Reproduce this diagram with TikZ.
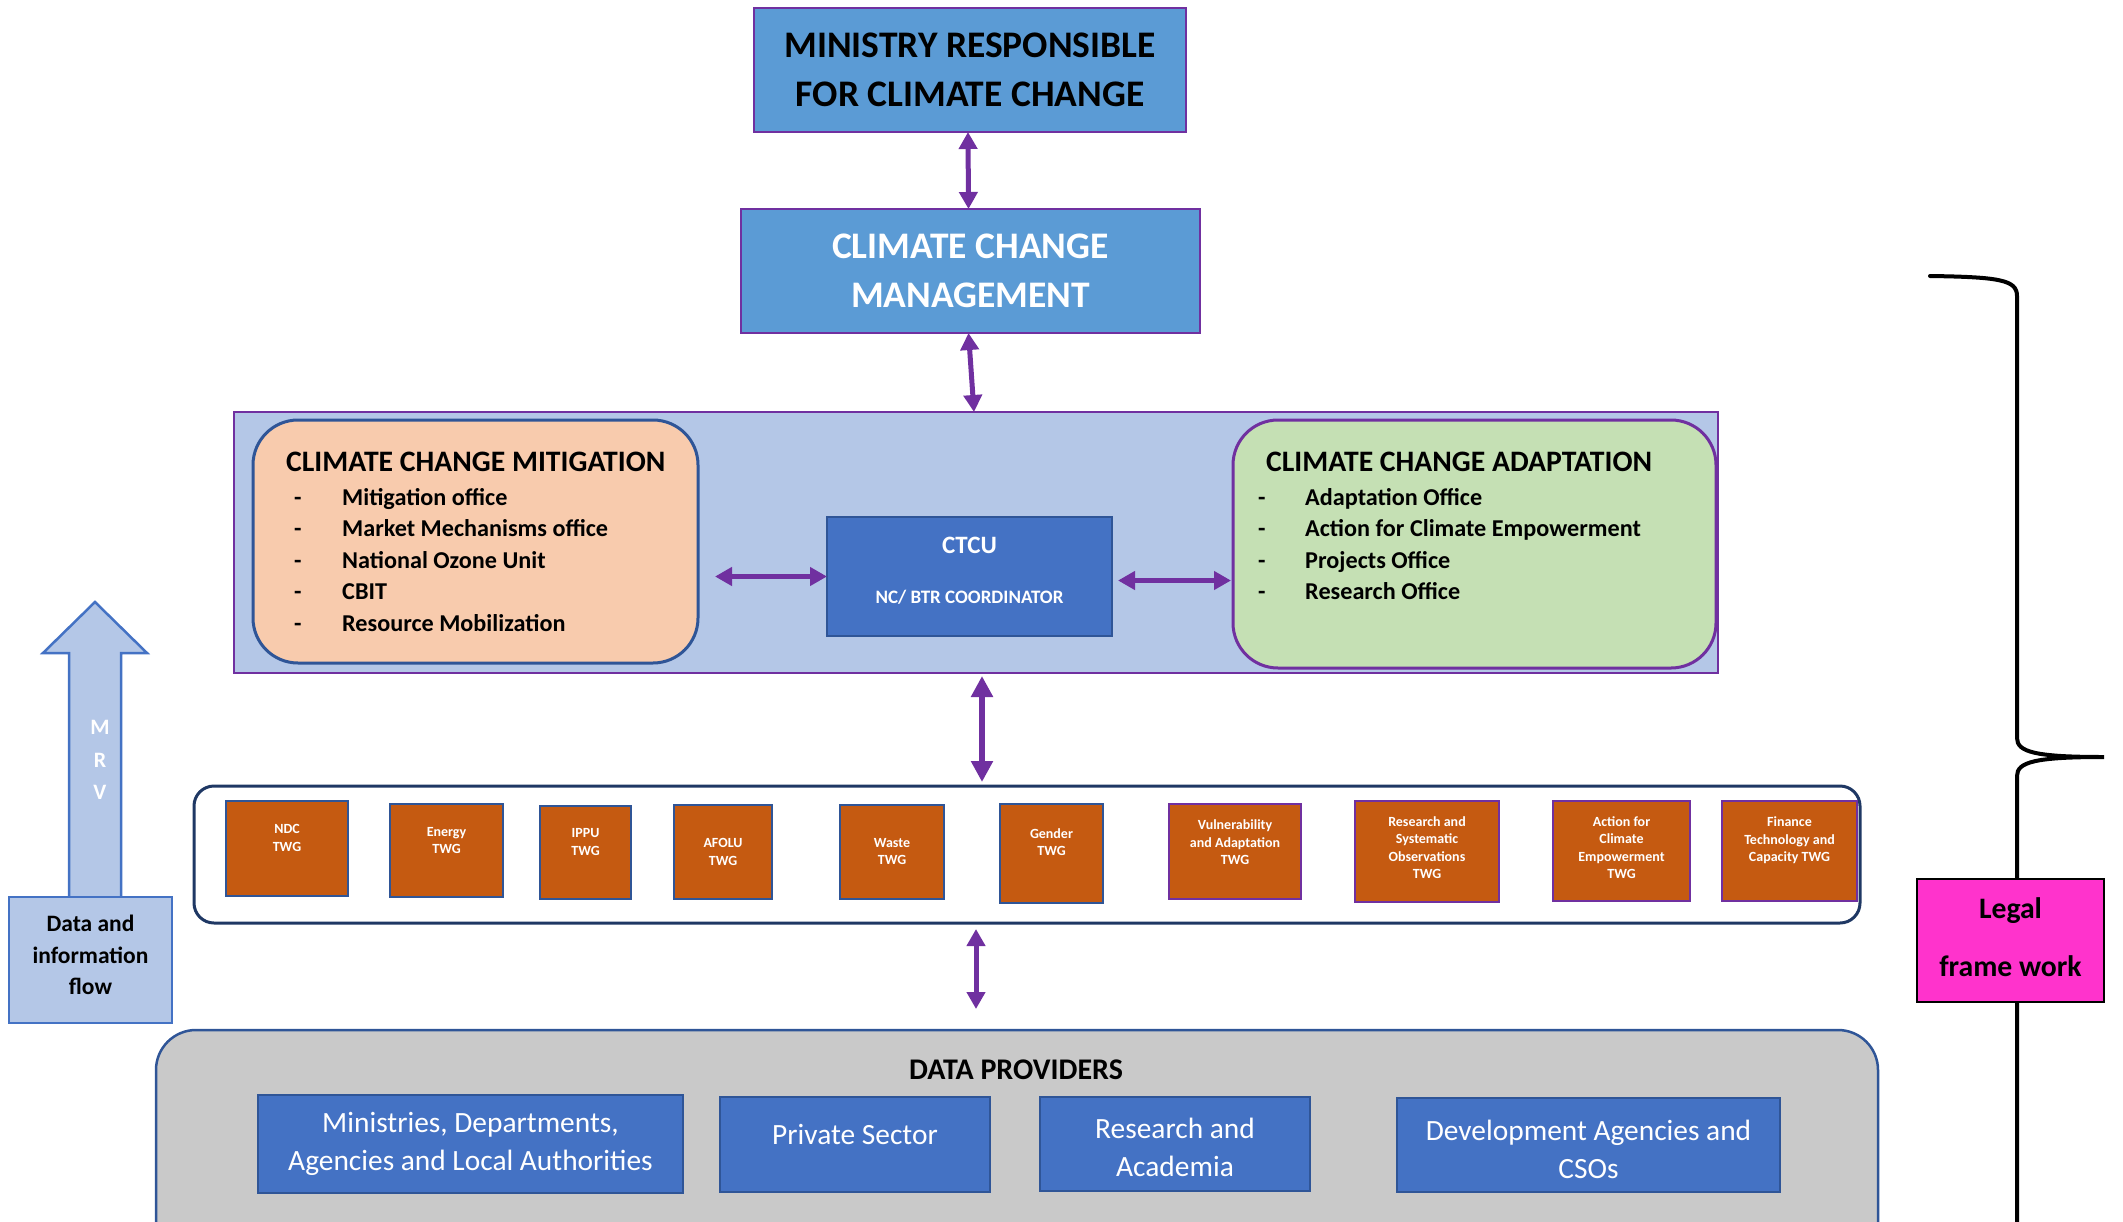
\documentclass[tikz,border=0pt]{standalone}
\usepackage{fontspec}
\setmainfont{Carlito}
\usetikzlibrary{arrows.meta}
\definecolor{skyb}{HTML}{5B9BD5}
\definecolor{purp}{HTML}{7030A0}
\definecolor{hubc}{HTML}{B4C7E7}
\definecolor{peach}{HTML}{F8CBAD}
\definecolor{greenc}{HTML}{C5E0B4}
\definecolor{midb}{HTML}{4472C4}
\definecolor{darkb}{HTML}{2F5597}
\definecolor{navy}{HTML}{1F3864}
\definecolor{rust}{HTML}{C55A11}
\definecolor{grayc}{HTML}{C9C9C9}
\definecolor{magen}{HTML}{FF33CC}
\begin{document}
\begin{tikzpicture}[x=1pt,y=-1pt,
  rbox/.style={draw, rectangle, inner sep=0pt, outer sep=0pt, line width=2.5pt, align=center},
  biarr/.style={<->, >={Triangle[width=18pt,length=17pt]}, line width=5pt, draw=purp},
  biarrb/.style={<->, >={Triangle[width=21pt,length=21pt]}, line width=6pt, draw=purp},
  titletxt/.style={anchor=base west, inner sep=0pt, font=\fontsize{29.7}{34}\selectfont\bfseries},
  itemtxt/.style={anchor=base west, inner sep=0pt, font=\fontsize{24.2}{29}\selectfont\bfseries},
  twgbox/.style={rbox, fill=rust, line width=2.5pt},
  twgtxt/.style={inner sep=0pt, align=center, text=white, font=\fontsize{14}{17.5}\selectfont\bfseries},
  provbox/.style={rbox, fill=midb, draw=darkb, text=white, font=\fontsize{29.4}{38}\selectfont},
]
\useasboundingbox (0,0) rectangle (2123,1221);
\clip (0,0) rectangle (2123,1221);

% top boxes
\node[rbox, fill=skyb, draw=purp, minimum width=432pt, minimum height=124pt,
      font=\fontsize{37.5}{49}\selectfont\bfseries] (min) at (970,70)
      {MINISTRY RESPONSIBLE\\FOR CLIMATE CHANGE};
\node[rbox, fill=skyb, draw=purp, minimum width=459pt, minimum height=124pt, text=white,
      font=\fontsize{37.5}{49}\selectfont\bfseries] (ccm) at (970.5,271)
      {CLIMATE CHANGE\\MANAGEMENT};

% hub
\node[rbox, fill=hubc, draw=purp, minimum width=1484pt, minimum height=261pt] (hub) at (976,542.5) {};
\node[rbox, fill=peach, draw=darkb, rounded corners=45pt, line width=3pt,
      minimum width=445pt, minimum height=243pt] (mit) at (475.5,541.5) {};
\node[rbox, fill=greenc, draw=purp, rounded corners=45pt, line width=3pt,
      minimum width=483pt, minimum height=248pt] (adapt) at (1474.5,544) {};

\node[titletxt] (mitT) at (286,471) {CLIMATE CHANGE MITIGATION};
\foreach \t [count=\i] in {Mitigation office, Market Mechanisms office, National Ozone Unit, CBIT, Resource Mobilization}{
  \node[itemtxt] (mitD\i) at (294,{505+31.5*(\i-1)}) {-};
  \node[itemtxt] (mitI\i) at (342,{505+31.5*(\i-1)}) {\t};
}
\node[titletxt] (adT) at (1266,471) {CLIMATE CHANGE ADAPTATION};
\foreach \t [count=\i] in {Adaptation Office, Action for Climate Empowerment, Projects Office, Research Office}{
  \node[itemtxt] (adD\i) at (1258,{505+31.5*(\i-1)}) {-};
  \node[itemtxt] (adI\i) at (1305,{505+31.5*(\i-1)}) {\t};
}

\node[rbox, fill=midb, draw=darkb, minimum width=285pt, minimum height=119pt] (ctcu) at (969.5,576.5) {};
\node[anchor=base, inner sep=0pt, text=white, font=\fontsize{25}{30}\selectfont\bfseries] (ctcuT) at (969.5,553) {CTCU};
\node[anchor=base, inner sep=0pt, text=white, font=\fontsize{19}{23}\selectfont\bfseries] (ctcuS) at (969.5,603) {NC/ BTR COORDINATOR};

% arrows top
\draw[biarr] ([xshift=-2pt]min.south) -- ([xshift=-2pt]ccm.north);
\draw[biarr] ([xshift=-2pt]ccm.south) -- ([xshift=-2pt]hub.north);
\draw[biarr] ([xshift=17pt]mit.east |- ctcu.west) -- (ctcu.west);
\draw[biarr] ([xshift=6pt,yshift=-4pt]ctcu.east) -- ([xshift=-2pt,yshift=-4pt]ctcu.east -| adapt.west);

% TWG container
\node[rbox, fill=white, draw=navy, line width=3pt, rounded corners=20pt,
      minimum width=1666pt, minimum height=137pt] (twg) at (1027,854.5) {};
\draw[biarrb] ([xshift=6pt,yshift=-3pt]hub.south) -- ([xshift=6pt,yshift=4pt]hub.south |- twg.north);

\node[twgbox, draw=darkb, minimum width=122pt, minimum height=95pt] (t1) at (287,848.5) {};
\node[twgbox, draw=darkb, minimum width=113pt, minimum height=93pt] (t2) at (446.5,850.5) {};
\node[twgbox, draw=darkb, minimum width=91pt, minimum height=93pt] (t3) at (585.5,852.5) {};
\node[twgbox, draw=darkb, minimum width=98pt, minimum height=94pt] (t4) at (723,852) {};
\node[twgbox, draw=darkb, minimum width=104pt, minimum height=94pt] (t5) at (892,852) {};
\node[twgbox, draw=darkb, minimum width=103pt, minimum height=99pt] (t6) at (1051.5,853.5) {};
\node[twgbox, draw=purp, minimum width=132pt, minimum height=95pt] (t7) at (1235,851.5) {};
\node[twgbox, draw=purp, minimum width=144pt, minimum height=101pt] (t8) at (1427,851.5) {};
\node[twgbox, draw=purp, minimum width=137pt, minimum height=100pt] (t9) at (1621.5,851) {};
\node[twgbox, draw=purp, minimum width=135pt, minimum height=100pt] (t10) at (1789.5,851) {};

\node[twgtxt] (l1) at (287,838) {NDC\\TWG};
\node[twgtxt] (l2) at (446.5,840.5) {Energy\\TWG};
\node[twgtxt] (l3) at (585.5,842) {IPPU\\TWG};
\node[twgtxt] (l4) at (723,852) {AFOLU\\TWG};
\node[twgtxt] (l5) at (892,851.5) {Waste\\TWG};
\node[twgtxt] (l6) at (1051.5,842) {Gender\\TWG};
\node[twgtxt] (l7) at (1235,842.5) {Vulnerability\\and Adaptation\\TWG};
\node[twgtxt] (l8) at (1427,847.5) {Research and\\Systematic\\Observations\\TWG};
\node[twgtxt] (l9) at (1621.5,847.5) {Action for\\Climate\\Empowerment\\TWG};
\node[twgtxt] (l10) at (1789.5,840.5) {Finance\\Technology and\\Capacity TWG};

% data providers
\node[rbox, fill=grayc, draw=darkb, rounded corners=40pt,
      minimum width=1722pt, minimum height=240pt] (dp) at (1017,1150) {};
\draw[biarr] ([xshift=-51pt,yshift=-6pt]twg.south) -- ([xshift=-41pt,yshift=21pt]dp.north);
\node[inner sep=0pt, font=\fontsize{30}{35}\selectfont\bfseries] (dpT) at (1016,1070) {DATA PROVIDERS};
\node[provbox, minimum width=425pt, minimum height=98pt] (p1) at (470.5,1144) {Ministries, Departments,\\Agencies and Local Authorities};
\node[provbox, minimum width=270pt, minimum height=95pt] (p2) at (855,1144.5) {};
\node[inner sep=0pt, text=white, font=\fontsize{29.4}{38}\selectfont] (p2t) at (855,1134) {Private Sector};
\node[provbox, minimum width=270pt, minimum height=94pt] (p3) at (1175,1144) {};
\node[inner sep=0pt, align=center, text=white, font=\fontsize{29.4}{38}\selectfont] (p3t) at (1175,1147) {Research and\\Academia};
\node[provbox, minimum width=383pt, minimum height=94pt] (p4) at (1588.5,1145) {};
\node[inner sep=0pt, align=center, text=white, font=\fontsize{29.4}{38}\selectfont] (p4t) at (1588.5,1149) {Development Agencies and\\CSOs};

% MRV arrow and data box
\draw[fill=hubc, draw=midb, line width=2.5pt, line join=miter]
  (69,900) -- (69,653) -- (43,653) -- (95,602) -- (147,653) -- (121,653) -- (121,900) -- cycle;
\node[inner sep=0pt, align=center, text=white, font=\fontsize{22}{32.5}\selectfont\bfseries] (mrv) at (100,760) {M\\R\\V};
\node[rbox, fill=hubc, draw=midb, minimum width=163pt, minimum height=126pt] (dbox) at (90.5,960) {};
\node[inner sep=0pt, align=center, font=\fontsize{23.5}{31.5}\selectfont\bfseries] (dboxT) at (90.5,955) {Data and\\information\\flow};

% brace and legal framework
\draw[line width=4pt, line cap=round] (1930,276) .. controls (2000,277) and (2017,280) .. (2017,296)
  -- (2017,738) .. controls (2017,752) and (2035,757) .. (2104,757)
  .. controls (2035,757) and (2017,762) .. (2017,776) -- (2017,1240);
\node[rbox, fill=magen, draw=black, line width=1.5pt, minimum width=187pt, minimum height=123pt] (legal) at (2010.5,940.5) {};
\node[inner sep=0pt, align=center, font=\fontsize{29.7}{58}\selectfont\bfseries] (legalT) at (2010.5,937) {Legal\\frame work};
\end{tikzpicture}
\end{document}
